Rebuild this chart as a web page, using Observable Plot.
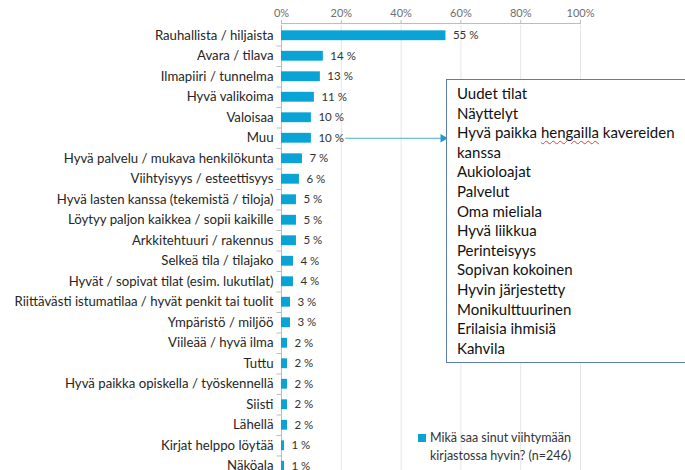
<!DOCTYPE html>
<html>
<head>
<meta charset="utf-8">
<script src="https://cdn.jsdelivr.net/npm/d3@7"></script>
<script src="https://cdn.jsdelivr.net/npm/@observablehq/plot@0.6"></script>
<style>
  html, body { margin: 0; padding: 0; overflow: hidden; background: #fff; width: 685px; height: 470px; }
  #wrap { position: relative; width: 685px; height: 470px; overflow: hidden; font-family: Lato, "Open Sans", sans-serif; }
  #wrap svg { position: absolute; left: 0; top: 0; }
  #note { position: absolute; left: 446px; top: 79px; width: 260px; height: 284px; border: 1.5px solid #5a7db0; background: #fff; box-sizing: border-box; padding: 4px 0 0 10px; font-size: 15px; line-height: 19.6px; color: #111; }
  #note .sp { text-decoration: underline wavy #e04040; text-decoration-thickness: 1px; text-underline-offset: 2px; }
  .lg { position: absolute; font-size: 12.5px; line-height: 18px; color: #333; white-space: nowrap; }
  .sw { position: absolute; left: 418px; top: 434px; width: 8px; height: 8px; }
</style>
</head>
<body>
<div id="wrap"></div>
<script>
const categories = [
  "Rauhallista / hiljaista",
  "Avara / tilava",
  "Ilmapiiri / tunnelma",
  "Hyvä valikoima",
  "Valoisaa",
  "Muu",
  "Hyvä palvelu / mukava henkilökunta",
  "Viihtyisyys / esteettisyys",
  "Hyvä lasten kanssa (tekemistä / tiloja)",
  "Löytyy paljon kaikkea / sopii kaikille",
  "Arkkitehtuuri / rakennus",
  "Selkeä tila / tilajako",
  "Hyvät / sopivat tilat (esim. lukutilat)",
  "Riittävästi istumatilaa / hyvät penkit tai tuolit",
  "Ympäristö / miljöö",
  "Viileää / hyvä ilma",
  "Tuttu",
  "Hyvä paikka opiskella / työskennellä",
  "Siisti",
  "Lähellä",
  "Kirjat helppo löytää",
  "Näköala"
];
const values = [55, 14, 13, 11, 10, 10, 7, 6, 5, 5, 5, 4, 4, 3, 3, 2, 2, 2, 2, 2, 1, 1];
const xTicks = [0, 20, 40, 60, 80, 100];
const muuItems = [
  "Uudet tilat",
  "Näyttelyt",
  "Hyvä paikka hengailla kavereiden",
  "kanssa",
  "Aukioloajat",
  "Palvelut",
  "Oma mieliala",
  "Hyvä liikkua",
  "Perinteisyys",
  "Sopivan kokoinen",
  "Hyvin järjestetty",
  "Monikulttuurinen",
  "Erilaisia ihmisiä",
  "Kahvila"
];
const seriesName = ["Mikä saa sinut viihtymään", "kirjastossa hyvin? (n=246)"];
const arrowFrom = 21.5, arrowTo = 54;

const barColor = "#0aa3d5";
const data = categories.map((c, i) => ({category: c, value: values[i]}));
const step = 20.5;

const chart = Plot.plot({
  width: 685,
  height: 476,
  marginLeft: 281,
  marginRight: 105,
  marginTop: 25,
  marginBottom: 0,
  style: {fontFamily: "Lato, 'Open Sans', sans-serif", background: "transparent"},
  x: {domain: [0, 100], axis: null},
  y: {domain: categories, paddingInner: 0.52, paddingOuter: 0.26, round: false, axis: null},
  marks: [
    Plot.gridX(xTicks, {stroke: "#e6e6e6", strokeOpacity: 1}),
    Plot.axisX(xTicks, {anchor: "top", tickSize: 4, tickPadding: 3, tickFormat: d => d + "%", label: null, stroke: "#bdbdbd", fill: "#6e6e6e", fontSize: 11, dy: -2}),
    Plot.axisY({tickSize: 0, tickPadding: 8, label: null, fill: "#262626", fontSize: 13.2}),
    Plot.ruleX([0], {stroke: "#bdbdbd"}),
    Plot.ruleY([categories[0]], {x1: 0, x2: 100, dy: -12.25, stroke: "#bdbdbd"}),
    Plot.ruleY(categories, {x1: -1.5, x2: 0, dy: step / 2, stroke: "#bdbdbd"}),
    Plot.barX(data, {x: "value", y: "category", fill: barColor}),
    Plot.text(data, {x: "value", y: "category", text: d => d.value + " %", dx: 7, textAnchor: "start", fontSize: 11.5, fill: "#333"}),
    Plot.ruleY(["Muu"], {x1: arrowFrom, x2: arrowTo, stroke: "#4aaedb", strokeWidth: 1}),
    Plot.dot([{x: arrowTo, y: "Muu"}], {x: "x", y: "y", symbol: "triangle", rotate: 90, r: 3.2, fill: "#1f9bd1", stroke: null})
  ]
});

const wrap = document.getElementById("wrap");
wrap.appendChild(chart);

const note = document.createElement("div");
note.id = "note";
note.innerHTML = muuItems.map(t => t === "Hyvä paikka hengailla kavereiden"
  ? "Hyvä paikka <span class='sp'>hengailla</span> kavereiden"
  : t).map(t => `<div>${t}</div>`).join("");
wrap.appendChild(note);

const sw = document.createElement("div");
sw.className = "sw";
sw.style.background = barColor;
wrap.appendChild(sw);
seriesName.forEach((t, i) => {
  const d = document.createElement("div");
  d.className = "lg";
  d.style.left = "430px";
  d.style.top = (429 + i * 18) + "px";
  d.textContent = t;
  wrap.appendChild(d);
});
</script>
</body>
</html>
